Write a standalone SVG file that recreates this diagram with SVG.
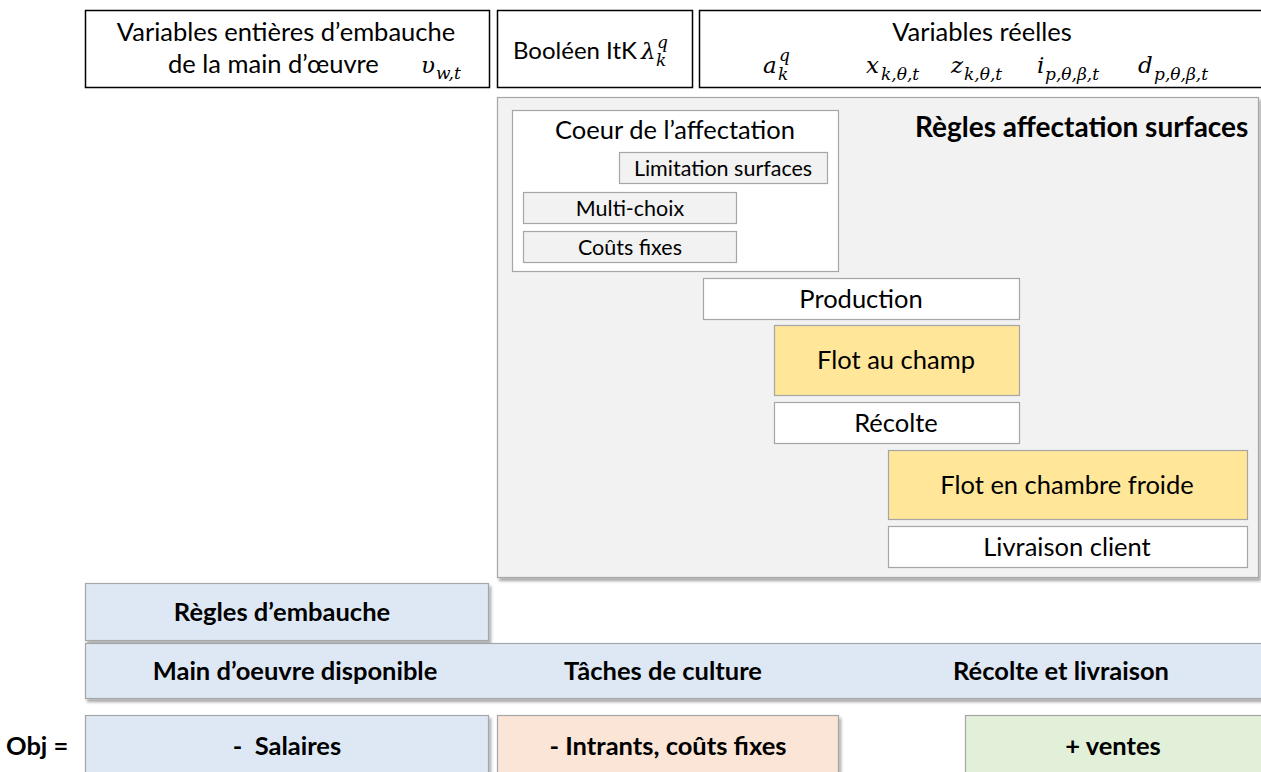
<svg xmlns="http://www.w3.org/2000/svg" width="1261" height="772" viewBox="0 0 1261 772">
<defs>
<filter id="sh" x="-5%" y="-5%" width="115%" height="130%">
<feDropShadow dx="2" dy="3" stdDeviation="1.5" flood-color="#000" flood-opacity="0.35"/>
</filter>
<style>
text{font-family:Lato,"Open Sans","Liberation Sans",sans-serif;fill:#000;}
.c{text-anchor:middle;}
.b{font-weight:bold;}
.m{font-family:"DejaVu Serif","Liberation Serif",serif;font-style:italic;font-size:23px;}
.sub{font-size:17px;}
.blk{fill:#fff;stroke:#000;stroke-width:1.5;}
.g{fill:#fff;stroke:#a6a6a6;stroke-width:1.2;}
.gg{fill:#f2f2f2;stroke:#a6a6a6;stroke-width:1.2;}
.y{fill:#ffe699;stroke:#a6a6a6;stroke-width:1.2;}
.bl{fill:#dee8f5;stroke:#a6a6a6;stroke-width:1.2;}
.pe{fill:#fbe5d6;stroke:#a6a6a6;stroke-width:1.2;}
.gr{fill:#e2f0d9;stroke:#a6a6a6;stroke-width:1.2;}
.t22{font-size:25.5px;}
.t19{font-size:21.5px;}
</style>
</defs>
<rect width="1261" height="772" fill="#fff"/>

<g id="var-entieres">
<rect class="blk" x="85.5" y="10.5" width="404" height="77"/>
<text class="c t22" x="286" y="41">Variables entières d’embauche</text>
<text class="t22" x="168" y="73">de la main d’œuvre</text>
<text class="m" x="421" y="73">υ</text>
<text class="m sub" x="436" y="79">w,t</text>
</g>

<g id="booleen">
<rect class="blk" x="497.5" y="10.5" width="195" height="77"/>
<text x="513" y="59" font-size="24">Booléen ItK</text>
<text class="m" x="641" y="59">λ</text>
<text class="m sub" x="657" y="48">q</text>
<text class="m sub" x="656" y="66">k</text>
</g>

<g id="var-reelles">
<rect class="blk" x="699.5" y="10.5" width="565" height="77"/>
<text class="c t22" x="982" y="41">Variables réelles</text>
<text class="m" x="763" y="73">a</text>
<text class="m sub" x="779" y="61">q</text>
<text class="m sub" x="778" y="80">k</text>
<text class="m" x="866" y="73">x</text>
<text class="m sub" x="881" y="80">k,θ,t</text>
<text class="m" x="951" y="73">z</text>
<text class="m sub" x="964" y="80">k,θ,t</text>
<text class="m" x="1037" y="73">i</text>
<text class="m sub" x="1045" y="80">p,θ,β,t</text>
<text class="m" x="1138" y="73">d</text>
<text class="m sub" x="1154" y="80">p,θ,β,t</text>
</g>

<g id="regles-affectation">
<rect class="gg" x="497.5" y="97.5" width="761" height="480" filter="url(#sh)"/>
<text class="b" x="915" y="137" font-size="28">Règles affectation surfaces</text>
</g>

<g id="coeur">
<rect class="g" x="512.5" y="110.5" width="326" height="161"/>
<text class="c t22" x="675" y="139">Coeur de l’affectation</text>
</g>
<g id="limitation">
<rect class="gg" x="619.5" y="152.5" width="208" height="31"/>
<text class="c t19" x="723" y="176">Limitation surfaces</text>
</g>
<g id="multichoix">
<rect class="gg" x="523.5" y="192.5" width="213" height="31"/>
<text class="c t19" x="630" y="216">Multi-choix</text>
</g>
<g id="couts-fixes">
<rect class="gg" x="523.5" y="231.5" width="213" height="31"/>
<text class="c t19" x="630" y="255">Coûts fixes</text>
</g>

<g id="production">
<rect class="g" x="703.5" y="278.5" width="316" height="41"/>
<text class="c t22" x="861" y="308">Production</text>
</g>
<g id="flot-champ">
<rect class="y" x="774.5" y="325.5" width="245" height="70"/>
<text class="c t22" x="896" y="369">Flot au champ</text>
</g>
<g id="recolte">
<rect class="g" x="774.5" y="402.5" width="245" height="41"/>
<text class="c t22" x="896" y="432">Récolte</text>
</g>
<g id="flot-froid">
<rect class="y" x="888.5" y="450.5" width="359" height="69"/>
<text class="c t22" x="1067" y="494">Flot en chambre froide</text>
</g>
<g id="livraison">
<rect class="g" x="888.5" y="526.5" width="359" height="41"/>
<text class="c t22" x="1067" y="556">Livraison client</text>
</g>

<g id="regles-embauche">
<rect class="bl" x="85.5" y="583.5" width="403" height="57" filter="url(#sh)"/>
<text class="c b t22" x="282" y="621">Règles d’embauche</text>
</g>

<g id="ressources">
<rect class="bl" x="85.5" y="643.5" width="1180" height="55" filter="url(#sh)"/>
<text class="c b t22" x="295" y="680">Main d’oeuvre disponible</text>
<text class="c b t22" x="663" y="680">Tâches de culture</text>
<text class="c b t22" x="1061" y="680">Récolte et livraison</text>
</g>

<g id="objectif">
<text class="b t22" x="6" y="755">Obj =</text>
</g>
<g id="salaires">
<rect class="bl" x="85.5" y="715.5" width="403" height="70" filter="url(#sh)"/>
<text class="c b t22" x="287" y="755" xml:space="preserve">-  Salaires</text>
</g>
<g id="intrants">
<rect class="pe" x="497.5" y="715.5" width="341" height="70" filter="url(#sh)"/>
<text class="c b t22" x="668" y="755">- Intrants, coûts fixes</text>
</g>
<g id="ventes">
<rect class="gr" x="965.5" y="715.5" width="310" height="70" filter="url(#sh)"/>
<text class="c b t22" x="1113" y="755">+ ventes</text>
</g>

<g id="connectors"></g>
</svg>
